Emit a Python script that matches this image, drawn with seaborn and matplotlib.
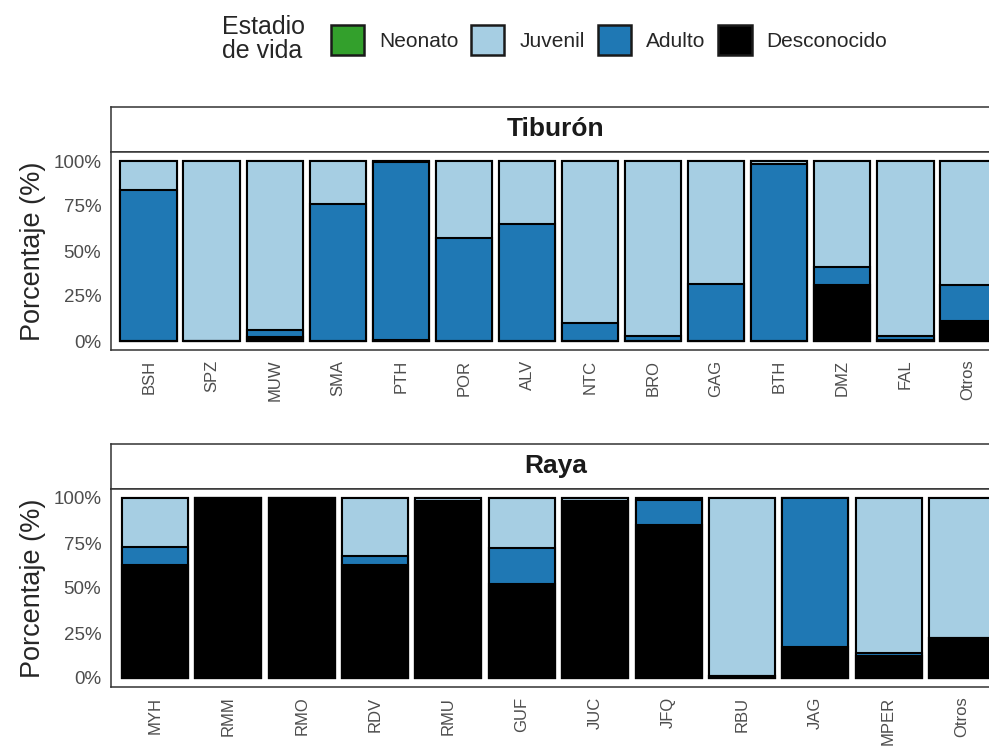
import numpy as np
import pandas as pd
import matplotlib
matplotlib.use("Agg")
import matplotlib.pyplot as plt
import matplotlib.patches as mpatches
import seaborn as sns

# --------------------
# Data (% per life stage)
# --------------------
stages = ["Neonato", "Juvenil", "Adulto", "Desconocido"]
stage_colors = ["#33a02c", "#a6cee3", "#1f78b4", "#000000"]

tib_species = ["BSH", "SPZ", "MUW", "SMA", "PTH", "POR", "ALV",
               "NTC", "BRO", "GAG", "BTH", "DMZ", "FAL", "Otros"]
tib_neonato = [0, 0, 0, 0, 0, 0, 0, 0, 0, 0, 0, 0, 0, 0]
tib_juvenil = [16, 100, 94, 24, 0.8, 43, 35, 90, 97, 68.5, 1.5, 59, 97, 69]
tib_adulto = [84, 0, 4, 76, 98.7, 57, 65, 10, 3, 31.5, 98.5, 10, 2.5, 20]
tib_desc = [0, 0, 2, 0, 0.5, 0, 0, 0, 0, 0, 0, 31, 0.5, 11]

raya_species = ["MYH", "RMM", "RMO", "RDV", "RMU", "GUF", "JUC",
                "JFQ", "RBU", "JAG", "MPER", "Otros"]
raya_neonato = [0, 0, 0, 0, 0, 0, 0, 0, 0, 0, 0, 0]
raya_juvenil = [27, 0, 0, 32, 1.5, 28, 1.5, 1, 99, 0, 86, 78]
raya_adulto = [10, 0, 0, 5, 0, 20, 0, 14, 0, 83, 2, 0]
raya_desc = [63, 100, 100, 63, 98.5, 52, 98.5, 85, 1, 17, 12, 22]

sns.set_style("white")
plt.rcParams["font.family"] = ["Liberation Sans", "DejaVu Sans"]

fig = plt.figure(figsize=(9.89, 7.5), dpi=100)

W, H = 989.0, 750.0
left = 111 / W
width = 895 / W


def panel(species, neo, juv, adu, desc, title, top_px):
    # stacked bars drawn as overlapping cumulative bars (tallest first)
    df = pd.DataFrame({"especie": species, "Neonato": neo, "Juvenil": juv,
                       "Adulto": adu, "Desconocido": desc})
    df["c_Desconocido"] = df["Desconocido"]
    df["c_Adulto"] = df["c_Desconocido"] + df["Adulto"]
    df["c_Juvenil"] = df["c_Adulto"] + df["Juvenil"]
    df["c_Neonato"] = df["c_Juvenil"] + df["Neonato"]

    strip_h = 45
    panel_h = 198
    ax_s = fig.add_axes([left, 1 - (top_px + strip_h) / H, width, strip_h / H])
    ax = fig.add_axes([left, 1 - (top_px + strip_h + panel_h) / H, width, panel_h / H])

    for st, col in zip(stages, stage_colors):
        sns.barplot(data=df, x="especie", y="c_" + st, order=species,
                    color=col, saturation=1, width=0.9, edgecolor="black",
                    linewidth=1.5, errorbar=None, ax=ax)

    ax.set_xlim(-0.6, len(species) - 0.4)
    ax.set_ylim(-5, 105)
    ax.set_yticks([0, 25, 50, 75, 100])
    ax.set_yticklabels(["0%", "25%", "50%", "75%", "100%"])
    ax.set_xlabel("")
    ax.set_ylabel("Porcentaje (%)", fontsize=19.5, labelpad=5)
    ax.grid(False)
    ax.tick_params(axis="both", length=4, width=1, color="#333333",
                   labelcolor="#4D4D4D", pad=3)
    ax.tick_params(axis="y", labelsize=13.5)
    ax.tick_params(axis="x", labelsize=12, rotation=90)
    for sp in ax.spines.values():
        sp.set_color("#333333")
        sp.set_linewidth(1.1)

    ax_s.set_xticks([])
    ax_s.set_yticks([])
    ax_s.set_facecolor("white")
    for sp in ax_s.spines.values():
        sp.set_color("#333333")
        sp.set_linewidth(1.1)
    ax_s.text(0.497, 0.5, title, transform=ax_s.transAxes,
              ha="center", va="center", fontsize=19, fontweight="bold",
              color="#1A1A1A")
    return ax


panel(tib_species, tib_neonato, tib_juvenil, tib_adulto, tib_desc, "Tiburón", 107)
panel(raya_species, raya_neonato, raya_juvenil, raya_adulto, raya_desc, "Raya", 444)

# --------------------
# Legend on top
# --------------------
handles = [mpatches.Patch(facecolor=c, edgecolor="#1A1A1A", linewidth=1.8)
           for c in stage_colors]
fig.legend(handles, stages, loc="center", bbox_to_anchor=(609 / W, 1 - 40 / H),
           ncol=4, frameon=False, fontsize=15, handlelength=1.6,
           handleheight=1.9, handletextpad=0.72, columnspacing=0.62)
fig.text(222 / W, 1 - 39 / H, "Estadio\nde vida", ha="left", va="center",
         fontsize=18, linespacing=1.0)

fig.savefig("out.png", dpi=100)
